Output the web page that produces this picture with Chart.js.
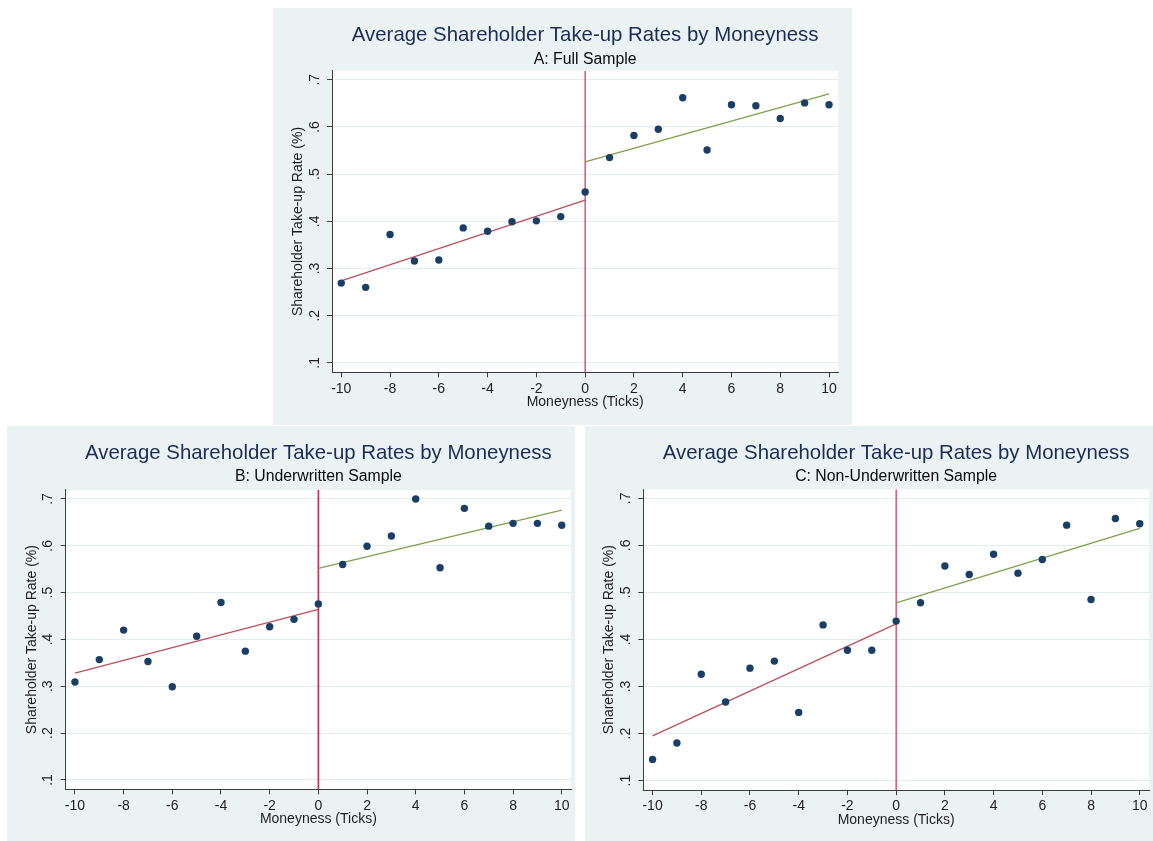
<!DOCTYPE html>
<html><head><meta charset="utf-8">
<script src="https://cdn.jsdelivr.net/npm/chart.js@4/dist/chart.umd.min.js"></script>
<style>
html,body{margin:0;padding:0;background:#ffffff;}
body{width:1153px;height:841px;position:relative;overflow:hidden;}
.panel{position:absolute;background:#eaf2f3;}
canvas{display:block;}
</style></head><body>
<div class="panel" style="left:273px;top:8px;width:579px;height:417px"><canvas id="cA" width="579" height="417"></canvas></div>
<div class="panel" style="left:7px;top:426px;width:568px;height:415px"><canvas id="cB" width="568" height="415"></canvas></div>
<div class="panel" style="left:585px;top:426px;width:568px;height:415px"><canvas id="cC" width="568" height="415"></canvas></div>
<script>
// ---- data ----
const chartTitle = 'Average Shareholder Take-up Rates by Moneyness';
const panelSubtitles = ['A: Full Sample', 'B: Underwritten Sample', 'C: Non-Underwritten Sample'];
const xAxisTitle = 'Moneyness (Ticks)';
const yAxisTitle = 'Shareholder Take-up Rate (%)';
const moneyness = [-10,-9,-8,-7,-6,-5,-4,-3,-2,-1,0,1,2,3,4,5,6,7,8,9,10];
const takeupFull = [0.269,0.260,0.372,0.316,0.318,0.386,0.379,0.399,0.401,0.410,0.462,0.535,0.582,0.595,0.662,0.551,0.647,0.645,0.618,0.651,0.647];
const takeupUnderwritten = [0.309,0.357,0.420,0.353,0.299,0.407,0.479,0.375,0.427,0.443,0.476,0.560,0.599,0.621,0.700,0.553,0.680,0.642,0.648,0.648,0.644];
const takeupNonUnderwritten = [0.145,0.180,0.326,0.267,0.339,0.354,0.245,0.431,0.377,0.377,0.439,0.478,0.556,0.538,0.581,0.541,0.570,0.643,0.485,0.657,0.646];
const fitBelowX = [-10, 0];
const fitAboveX = [0, 10];
const fitFullBelow = [0.274, 0.445];
const fitFullAbove = [0.526, 0.670];
const fitUnderBelow = [0.328, 0.464];
const fitUnderAbove = [0.552, 0.676];
const fitNonBelow = [0.195, 0.433];
const fitNonAbove = [0.478, 0.636];
const cutoff = 0;
const xTicks = [-10,-8,-6,-4,-2,0,2,4,6,8,10];
const yTicks = [0.1,0.2,0.3,0.4,0.5,0.6,0.7];
const xMin = -10.38, xMax = 10.38, yMin = 0.08, yMax = 0.7192;

// ---- styles ----
const FONT = "'Liberation Sans', Arial, sans-serif";
const BG = '#eaf2f3';
const AXIS = '#3c3c3c';
const TEXT = '#1e1e1e';

const bgPlugin = {
  id: 'bgPlugin',
  beforeDraw(chart) {
    const {ctx, chartArea: a} = chart;
    ctx.save();
    ctx.fillStyle = BG;
    ctx.fillRect(0, 0, chart.width, chart.height);
    ctx.fillStyle = '#ffffff';
    ctx.fillRect(a.left, a.top, a.right - a.left, a.bottom - a.top);
    ctx.restore();
  }
};

function pts(xs, ys) { return xs.map((x, i) => ({x: x, y: ys[i]})); }

function makeChart(id, subtitle, values, fitBelow, fitAbove, g) {
  const titleFs = 20.4, subFs = 15.8;
  const tLH = titleFs * 1.2, sLH = subFs * 1.2;
  const ptT = g.titleMid - tLH / 2;
  const ptS = g.subMid - sLH / 2 - (g.titleMid + tLH / 2);
  const pbS = g.areaTop - (g.subMid + sLH / 2);
  new Chart(document.getElementById(id), {
    type: 'scatter',
    data: {
      datasets: [
        { data: pts([cutoff, cutoff], [yMin, yMax]), showLine: true, borderColor: '#d42a52', borderWidth: g.vlw, pointRadius: 0, order: 3 },
        { data: pts(fitBelowX, fitBelow), showLine: true, borderColor: '#b9505e', borderWidth: 1.3, pointRadius: 0, order: 2 },
        { data: pts(fitAboveX, fitAbove), showLine: true, borderColor: '#7ea04c', borderWidth: 1.3, pointRadius: 0, order: 2 },
        { data: pts(moneyness, values), showLine: false, backgroundColor: '#1a3f66', borderWidth: 0, pointRadius: 3.7, order: 1 }
      ]
    },
    options: {
      responsive: false, animation: false, devicePixelRatio: 1,
      layout: { padding: { left: 0, top: 0, bottom: 0, right: g.right } },
      plugins: {
        legend: { display: false }, tooltip: { enabled: false },
        title: { display: true, text: chartTitle, fullSize: false, color: '#1c2b57',
          font: { family: FONT, size: titleFs, weight: 'normal', lineHeight: 1.2 },
          padding: { top: ptT, bottom: 0 } },
        subtitle: { display: true, text: subtitle, fullSize: false, color: '#0a0a0a',
          font: { family: FONT, size: subFs, weight: 'normal', lineHeight: 1.2 },
          padding: { top: ptS, bottom: pbS } }
      },
      scales: {
        x: {
          type: 'linear', min: xMin, max: xMax,
          afterBuildTicks(s) { s.ticks = xTicks.map(v => ({value: v})); },
          afterFit(s) { s.height = g.xh; s.paddingLeft = 0; s.paddingRight = 0; s.paddingTop = 0; s.paddingBottom = 0; },
          grid: { drawOnChartArea: false, drawTicks: true, tickLength: 5, tickColor: AXIS, tickWidth: 1 },
          border: { display: true, color: AXIS, width: 1 },
          ticks: { color: TEXT, font: { family: FONT, size: 14 }, padding: 3, maxRotation: 0, minRotation: 0, autoSkip: false,
            callback: v => String(v) },
          title: { display: true, text: xAxisTitle, color: TEXT, font: { family: FONT, size: 14, lineHeight: 1.2 },
            padding: { top: 0, bottom: g.xh - 30.3 - 8.4 } }
        },
        y: {
          type: 'linear', min: yMin, max: yMax,
          afterBuildTicks(s) { s.ticks = yTicks.map(v => ({value: v})); },
          afterFit(s) { s.width = g.left; s.paddingLeft = 0; s.paddingRight = 0; s.paddingTop = 0; s.paddingBottom = 0; },
          grid: { color: '#e3ecee', lineWidth: 1, drawTicks: true, tickLength: 5, tickColor: AXIS, tickWidth: 1 },
          border: { display: true, color: AXIS, width: 1 },
          ticks: { color: TEXT, font: { family: FONT, size: 14 }, padding: 6.4, minRotation: 90, maxRotation: 90,
            crossAlign: 'center', autoSkip: false,
            callback: v => v.toFixed(1).replace(/^0/, '') },
          title: { display: true, text: yAxisTitle, color: TEXT, font: { family: FONT, size: 14, lineHeight: 1.2 },
            padding: { top: g.left - 34 - 8.4, bottom: 0 } }
        }
      }
    },
    plugins: [bgPlugin]
  });
}

makeChart('cA', panelSubtitles[0], takeupFull, fitFullBelow, fitFullAbove,
  { left: 59, right: 13.7, xh: 52.7, titleMid: 27.8, subMid: 51.8, areaTop: 62.7, vlw: 1.2 });
makeChart('cB', panelSubtitles[1], takeupUnderwritten, fitUnderBelow, fitUnderAbove,
  { left: 58.7, right: 4, xh: 51.7, titleMid: 27.5, subMid: 50.5, areaTop: 64, vlw: 1.6 });
makeChart('cC', panelSubtitles[2], takeupNonUnderwritten, fitNonBelow, fitNonAbove,
  { left: 58.3, right: 3.7, xh: 51, titleMid: 27.5, subMid: 50.5, areaTop: 63.3, vlw: 1.2 });
</script>
</body></html>
